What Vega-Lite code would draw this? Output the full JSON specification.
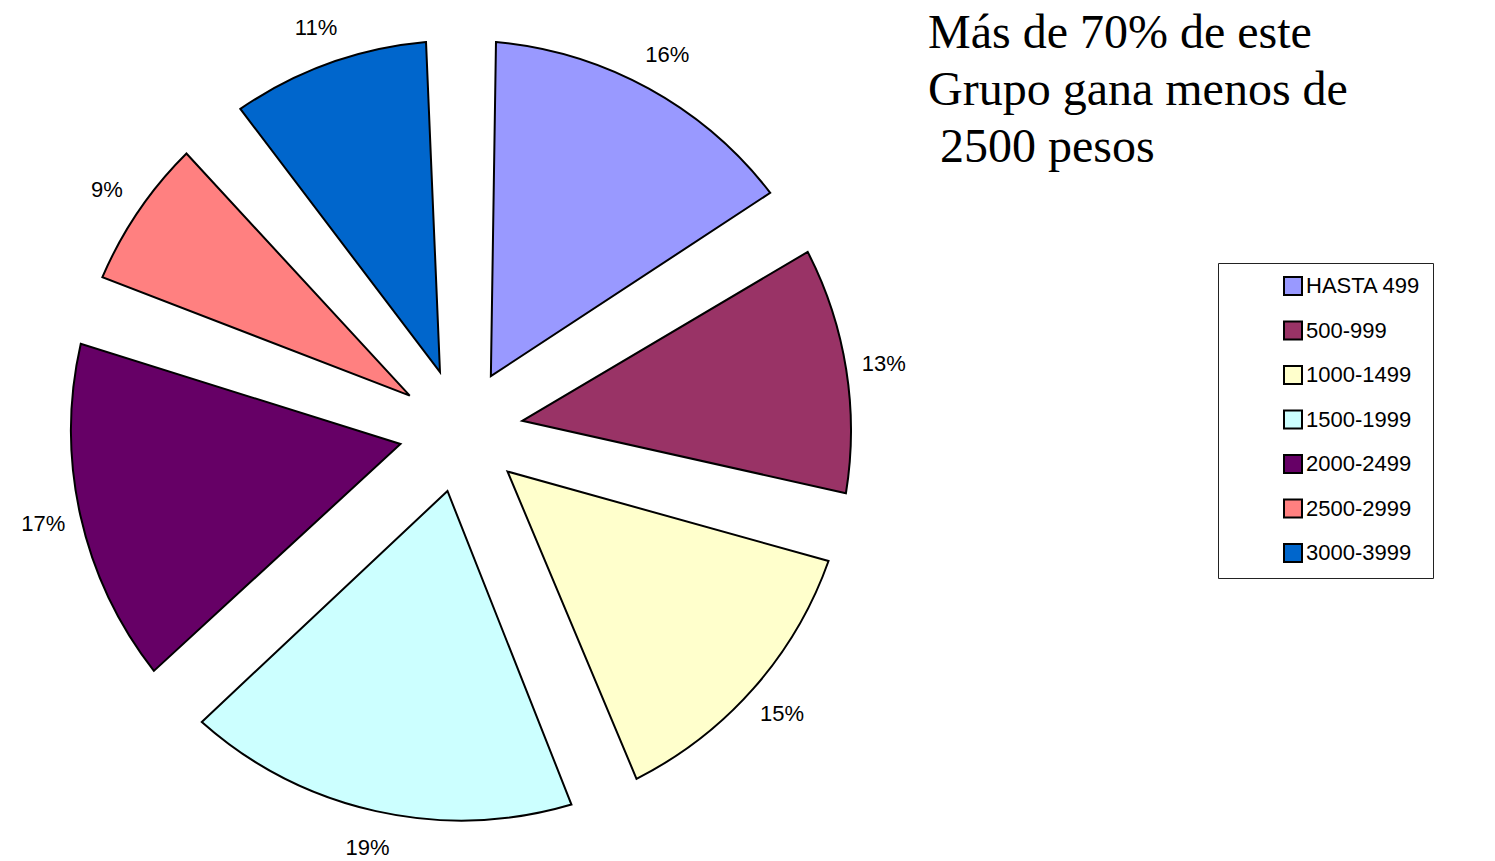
{
  "$schema": "https://vega.github.io/schema/vega-lite/v6.json",
  "width": 922,
  "height": 861,
  "autosize": {"type": "none"},
  "padding": {"left": 0, "top": 0, "right": 573, "bottom": 0},
  "background": "white",
  "title": {
    "text": ["Más de 70% de este", "Grupo gana menos de", "\u200b\u00a02500 pesos"],
    "anchor": "start",
    "frame": "group",
    "orient": "top",
    "font": "Liberation Serif",
    "fontSize": 48,
    "fontWeight": "normal",
    "color": "black",
    "lineHeight": 57,
    "baseline": "top",
    "dx": 928,
    "dy": 172,
    "offset": 0
  },
  "data": {
    "values": [
      {"rango": "HASTA 499", "share": 0.16, "orden": 1},
      {"rango": "500-999", "share": 0.13, "orden": 2},
      {"rango": "1000-1499", "share": 0.15, "orden": 3},
      {"rango": "1500-1999", "share": 0.19, "orden": 4},
      {"rango": "2000-2499", "share": 0.17, "orden": 5},
      {"rango": "2500-2999", "share": 0.09, "orden": 6},
      {"rango": "3000-3999", "share": 0.11, "orden": 7}
    ]
  },
  "encoding": {
    "theta": {"field": "share", "type": "quantitative", "stack": true},
    "order": {"field": "orden", "type": "quantitative"}
  },
  "layer": [
    {
      "mark": {"type": "arc", "outerRadius": 390, "innerRadius": 62, "padAngle": 0.1774, "stroke": "black", "strokeWidth": 2},
      "encoding": {
        "color": {
          "field": "rango",
          "type": "nominal",
          "scale": {
            "domain": ["HASTA 499", "500-999", "1000-1499", "1500-1999", "2000-2499", "2500-2999", "3000-3999"],
            "range": ["#9999FF", "#993366", "#FFFFCC", "#CCFFFF", "#660066", "#FF8080", "#0066CC"]
          },
          "legend": {
            "title": null,
            "orient": "none",
            "legendX": 1218,
            "legendY": 263,
            "padding": 12,
            "fillColor": "white",
            "strokeColor": "#222222",
            "symbolType": "square",
            "symbolSize": 324,
            "symbolStrokeColor": "black",
            "symbolStrokeWidth": 2,
            "symbolOffset": 52,
            "labelFont": "Liberation Sans",
            "labelFontSize": 22,
            "labelColor": "black",
            "labelOffset": 2,
            "rowPadding": 18.5
          }
        }
      }
    },
    {
      "mark": {"type": "text", "radius": 428, "font": "Liberation Sans", "fontSize": 22},
      "encoding": {
        "text": {"field": "share", "type": "quantitative", "format": ".0%"},
        "detail": {"field": "rango", "type": "nominal"},
        "color": {"value": "black"}
      }
    }
  ],
  "config": {"view": {"stroke": null}}
}
